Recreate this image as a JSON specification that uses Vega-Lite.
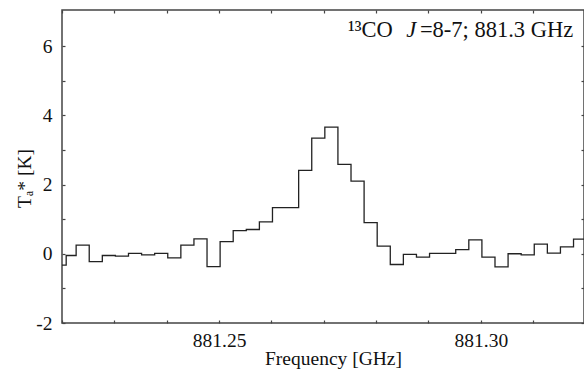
{
  "$schema": "https://vega.github.io/schema/vega-lite/v6.json",
  "autosize": "none",
  "width": 522,
  "height": 313,
  "padding": {"left": 62, "top": 10, "right": 0, "bottom": 49},
  "background": "white",
  "config": {
    "view": {"stroke": "#444", "strokeWidth": 1.5},
    "font": "Liberation Serif",
    "axis": {
      "domain": false,
      "grid": false,
      "tickColor": "#444",
      "tickWidth": 1.2,
      "labelColor": "#111",
      "titleColor": "#111",
      "titleFontWeight": "normal"
    }
  },
  "datasets": {
    "spectrum": [
      {"freq": 881.2190, "Ta": -0.33},
      {"freq": 881.2208, "Ta": -0.05},
      {"freq": 881.2227, "Ta": 0.25},
      {"freq": 881.2252, "Ta": -0.23},
      {"freq": 881.2277, "Ta": -0.05},
      {"freq": 881.2302, "Ta": -0.07},
      {"freq": 881.2327, "Ta": 0.01},
      {"freq": 881.2352, "Ta": -0.03},
      {"freq": 881.2377, "Ta": 0.01},
      {"freq": 881.2402, "Ta": -0.12},
      {"freq": 881.2427, "Ta": 0.25},
      {"freq": 881.2452, "Ta": 0.43},
      {"freq": 881.2477, "Ta": -0.37},
      {"freq": 881.2502, "Ta": 0.35},
      {"freq": 881.2527, "Ta": 0.67},
      {"freq": 881.2552, "Ta": 0.70},
      {"freq": 881.2577, "Ta": 0.92},
      {"freq": 881.2602, "Ta": 1.33},
      {"freq": 881.2627, "Ta": 1.33},
      {"freq": 881.2652, "Ta": 2.41},
      {"freq": 881.2677, "Ta": 3.34},
      {"freq": 881.2702, "Ta": 3.66},
      {"freq": 881.2727, "Ta": 2.58},
      {"freq": 881.2752, "Ta": 2.10},
      {"freq": 881.2777, "Ta": 0.90},
      {"freq": 881.2802, "Ta": 0.22},
      {"freq": 881.2827, "Ta": -0.31},
      {"freq": 881.2852, "Ta": -0.02},
      {"freq": 881.2877, "Ta": -0.10},
      {"freq": 881.2902, "Ta": 0.01},
      {"freq": 881.2927, "Ta": 0.01},
      {"freq": 881.2952, "Ta": 0.12},
      {"freq": 881.2977, "Ta": 0.40},
      {"freq": 881.3002, "Ta": -0.10},
      {"freq": 881.3027, "Ta": -0.38},
      {"freq": 881.3052, "Ta": 0.00},
      {"freq": 881.3077, "Ta": -0.03},
      {"freq": 881.3102, "Ta": 0.28},
      {"freq": 881.3127, "Ta": 0.02},
      {"freq": 881.3152, "Ta": 0.20},
      {"freq": 881.3177, "Ta": 0.42},
      {"freq": 881.3202, "Ta": 0.42}
    ],
    "note": [
      {"part": "¹³CO", "freq": 881.28318, "Ta": 6.27},
      {"part": "=8-7; 881.3 GHz", "freq": 881.31764, "Ta": 6.27}
    ],
    "noteItalic": [
      {"part": "J", "freq": 881.28768, "Ta": 6.27}
    ]
  },
  "resolve": {"axis": {"x": "independent", "y": "independent"}},
  "layer": [
    {
      "data": {"name": "spectrum"},
      "mark": {"type": "line", "interpolate": "step-after", "color": "#222", "strokeWidth": 1.3, "clip": true},
      "encoding": {
        "x": {
          "field": "freq", "type": "quantitative",
          "scale": {"domain": [881.22, 881.3197], "zero": false, "nice": false},
          "axis": {
            "orient": "bottom",
            "values": [881.22, 881.23, 881.24, 881.25, 881.26, 881.27, 881.28, 881.29, 881.30, 881.31],
            "tickSize": -3,
            "labelPadding": 11,
            "labelFont": "Liberation Serif",
            "labelFontSize": 19.5,
            "titleFont": "Liberation Serif",
            "titleFontSize": 19.5,
            "labelExpr": "round(datum.value*100) % 5 == 0 ? format(datum.value, '.2f') : ''",
            "title": "Frequency [GHz]",
            "titlePadding": 0,
            "titleX": 271,
            "encode": {"ticks": {"update": {"y2": {"signal": "round(datum.value*100) % 5 == 0 ? -3 : -1.5"}}}}
          }
        },
        "y": {
          "field": "Ta", "type": "quantitative",
          "scale": {"domain": [-2, 7.04], "zero": false, "nice": false},
          "axis": {
            "orient": "left",
            "values": [-2, -1, 0, 1, 2, 3, 4, 5, 6],
            "tickSize": -3,
            "labelPadding": 13,
            "labelFont": "Liberation Serif",
            "labelFontSize": 19.5,
            "titleFont": "Liberation Serif",
            "titleFontSize": 19.5,
            "labelExpr": "datum.value % 2 == 0 ? '' + datum.value : ''",
            "title": "Tₐ* [K]",
            "titleBaseline": "alphabetic",
            "titleX": -32,
            "titleY": 168,
            "encode": {"ticks": {"update": {"x2": {"signal": "datum.value % 2 == 0 ? 3 : 1.5"}}}}
          }
        }
      }
    },
    {
      "mark": {"type": "rule", "color": "#000", "strokeWidth": 0.9, "strokeDash": [1, 1]},
      "encoding": {
        "y": {
          "datum": 0, "type": "quantitative",
          "axis": {
            "orient": "right",
            "values": [-2, -1, 0, 1, 2, 3, 4, 5, 6],
            "tickSize": -3,
            "labels": false,
            "title": null,
            "encode": {"ticks": {"update": {"x2": {"signal": "datum.value % 2 == 0 ? -3 : -1.5"}}}}
          }
        },
        "x": {
          "datum": 881.22, "type": "quantitative",
          "axis": {
            "orient": "top",
            "values": [881.22, 881.23, 881.24, 881.25, 881.26, 881.27, 881.28, 881.29, 881.30, 881.31],
            "tickSize": -3,
            "labels": false,
            "title": null,
            "encode": {"ticks": {"update": {"y2": {"signal": "round(datum.value*100) % 5 == 0 ? 3 : 1.5"}}}}
          }
        },
        "x2": {"datum": 881.3197}
      }
    },
    {
      "data": {"name": "note"},
      "mark": {"type": "text", "align": "right", "baseline": "alphabetic", "font": "Liberation Serif", "fontSize": 22.5, "color": "#111"},
      "encoding": {
        "x": {"field": "freq", "type": "quantitative", "axis": null},
        "y": {"field": "Ta", "type": "quantitative", "axis": null},
        "text": {"field": "part"}
      }
    },
    {
      "data": {"name": "noteItalic"},
      "mark": {"type": "text", "align": "right", "baseline": "alphabetic", "font": "Liberation Serif", "fontStyle": "italic", "fontSize": 22.5, "color": "#111"},
      "encoding": {
        "x": {"field": "freq", "type": "quantitative", "axis": null},
        "y": {"field": "Ta", "type": "quantitative", "axis": null},
        "text": {"field": "part"}
      }
    }
  ]
}
